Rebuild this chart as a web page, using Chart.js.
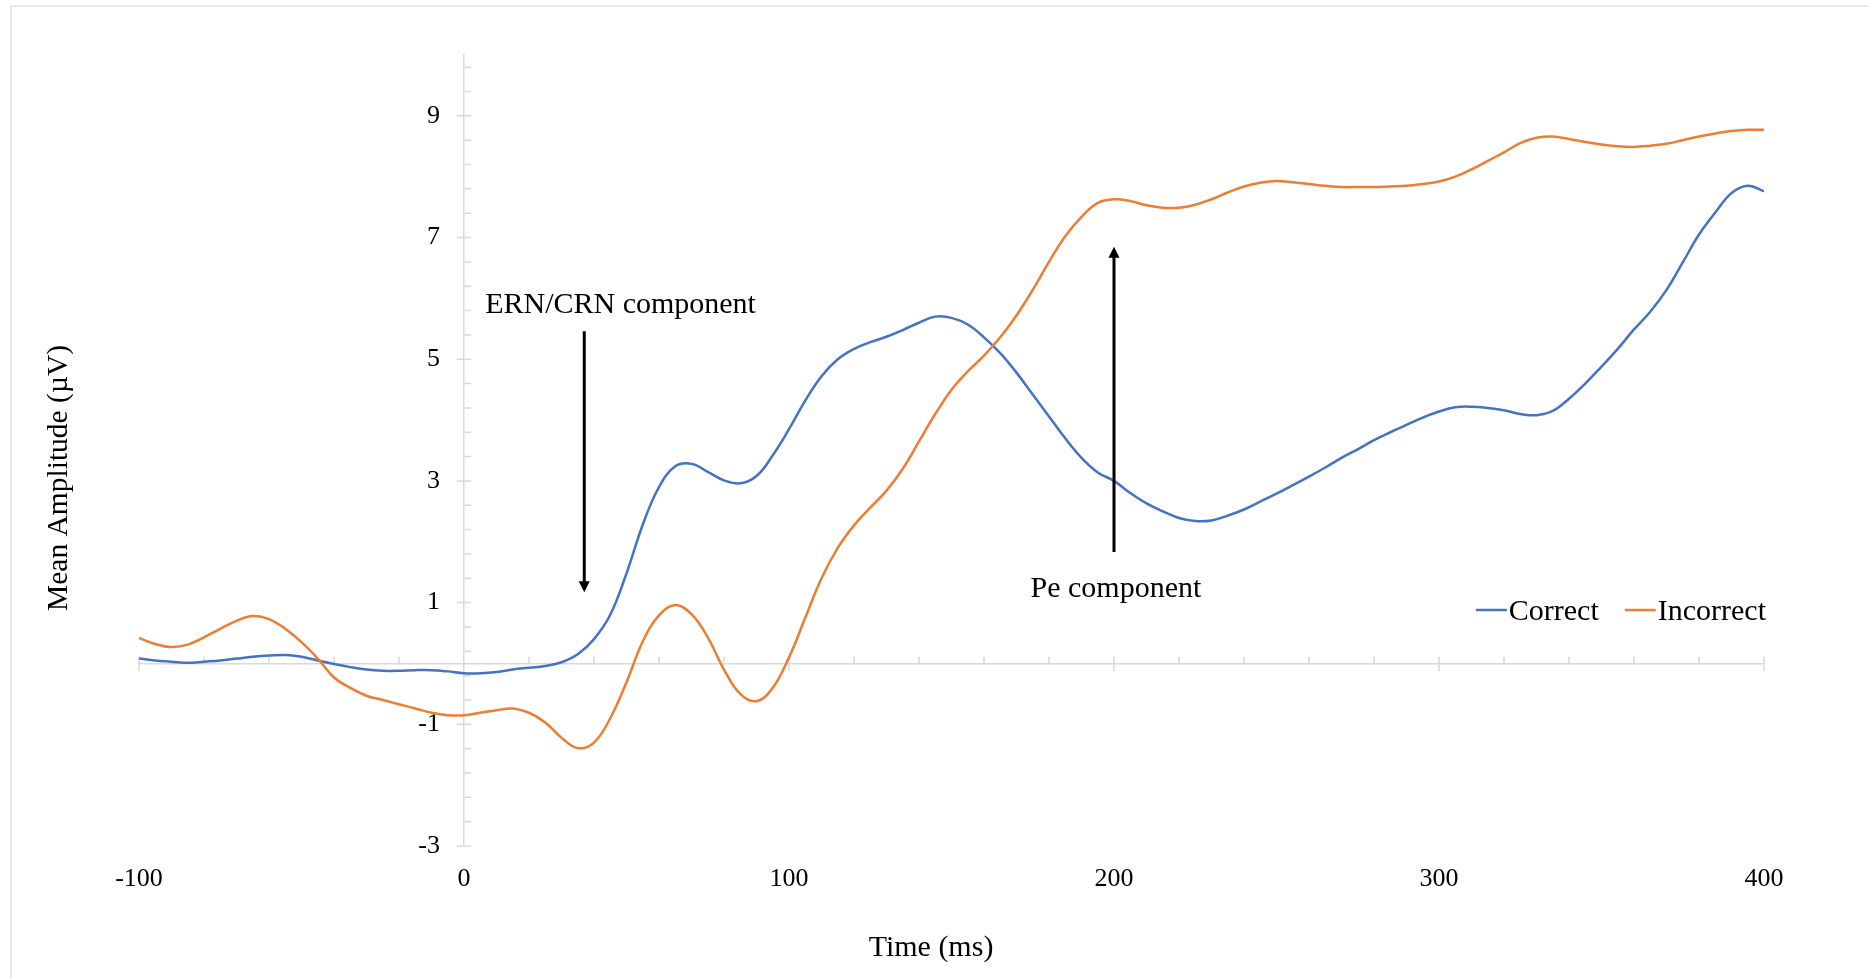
<!DOCTYPE html>
<html>
<head>
<meta charset="utf-8">
<script src="https://cdn.jsdelivr.net/npm/chart.js@4.4.1/dist/chart.umd.min.js"></script>
<style>
  html, body { margin: 0; padding: 0; background: #fff; }
  #wrap { position: relative; width: 1868px; height: 978px; }
  #frame { position: absolute; left: 10px; top: 5px; right: 0; bottom: 0; border-top: 2px solid #e8e8e8; border-left: 2px solid #e8e8e8; pointer-events: none; }
</style>
</head>
<body>
<div id="wrap">
  <div id="frame"></div>
  <canvas id="erpChart"></canvas>
</div>
<script>
// time points (ms)
const times = [
  -100, -95, -90, -85, -80, -75, -70, -65, -60, -55, -50, -45, -40, -35, -30, -25, -20, -15, -10, -5,
  0, 5, 10, 15, 20, 25, 30, 35, 40, 45, 50, 55, 60, 65, 70, 75, 80, 85, 90, 95,
  100, 105, 110, 115, 120, 125, 130, 135, 140, 145, 150, 155, 160, 165, 170, 175, 180, 185, 190, 195,
  200, 205, 210, 215, 220, 225, 230, 235, 240, 245, 250, 255, 260, 265, 270, 275, 280, 285, 290, 295,
  300, 305, 310, 315, 320, 325, 330, 335, 340, 345, 350, 355, 360, 365, 370, 375, 380, 385, 390, 395,
  400
];

// mean amplitude (µV)
const correct = [
  0.08, 0.05, 0.03, 0.01, 0.03, 0.05, 0.08, 0.11, 0.13, 0.14, 0.11, 0.05, -0.01, -0.06, -0.10, -0.12, -0.12, -0.11, -0.11, -0.13,
  -0.16, -0.16, -0.14, -0.10, -0.07, -0.04, 0.02, 0.15, 0.40, 0.80, 1.48, 2.28, 2.90, 3.24, 3.28, 3.15, 3.01, 2.96, 3.08, 3.42,
  3.85, 4.32, 4.72, 5.00, 5.17, 5.28, 5.37, 5.48, 5.60, 5.70, 5.68, 5.57, 5.36, 5.10, 4.78, 4.42, 4.06, 3.70, 3.38, 3.14,
  3.00, 2.80, 2.63, 2.50, 2.39, 2.34, 2.35, 2.43, 2.53, 2.66, 2.79, 2.93, 3.07, 3.22, 3.38, 3.52, 3.67, 3.80, 3.92, 4.04,
  4.14, 4.21, 4.22, 4.20, 4.16, 4.10, 4.08, 4.15, 4.35, 4.60, 4.88, 5.17, 5.49, 5.78, 6.14, 6.59, 7.05, 7.41, 7.73, 7.85,
  7.76
];

const incorrect = [
  0.42, 0.32, 0.27, 0.31, 0.43, 0.57, 0.70, 0.78, 0.73, 0.57, 0.35, 0.08, -0.23, -0.40, -0.53, -0.60, -0.67, -0.74, -0.81, -0.85,
  -0.85, -0.81, -0.77, -0.74, -0.81, -0.97, -1.22, -1.39, -1.30, -0.90, -0.31, 0.36, 0.79, 0.96, 0.81, 0.43, -0.10, -0.50, -0.62, -0.40,
  0.10, 0.75, 1.40, 1.90, 2.27, 2.56, 2.84, 3.20, 3.65, 4.10, 4.50, 4.80, 5.06, 5.36, 5.72, 6.14, 6.60, 7.02, 7.34, 7.57,
  7.63, 7.60, 7.53, 7.49, 7.49, 7.54, 7.63, 7.74, 7.84, 7.90, 7.93, 7.91, 7.88, 7.85, 7.83, 7.83, 7.83, 7.84, 7.85, 7.88,
  7.92, 8.00, 8.12, 8.26, 8.40, 8.55, 8.64, 8.66, 8.62, 8.57, 8.53, 8.50, 8.49, 8.51, 8.54, 8.60, 8.66, 8.71, 8.75, 8.77,
  8.77
];

const seriesNames = ['Correct', 'Incorrect'];
const xTickValues = [-100, 0, 100, 200, 300, 400];
const yTickValues = [-3, -1, 1, 3, 5, 7, 9];

// annotation arrows, in data units
const ernNote = { text: 'ERN/CRN component', x: 37, from: 5.46, to: 1.17, textX: 6.5, textY: 5.76 };
const peNote = { text: 'Pe component', x: 200, from: 1.83, to: 6.85, textX: 200.6, textY: 1.10 };

const serif = "'Liberation Serif', 'Times New Roman', serif";
const axisColor = '#d9d9d9';
const colors = ['#4472C4', '#ED7D31'];

const toPoints = (vals) => times.map((t, i) => ({ x: t, y: vals[i] }));

// y labels of a centred axis get no offset from chart.js, push them off the line
const yLabelGap = {
  id: 'yLabelGap',
  beforeDraw(chart) {
    chart.scales.y.getLabelItems().forEach(item => { item.options.translation[0] -= 24; });
  }
};

// minor / major tick marks drawn on the axis lines (Excel style)
const axisMarks = {
  id: 'axisMarks',
  beforeDatasetsDraw(chart) {
    const { ctx, scales: { x, y } } = chart;
    const x0 = x.getPixelForValue(0);
    const y0 = y.getPixelForValue(0);
    ctx.save();
    ctx.strokeStyle = axisColor;
    ctx.lineWidth = 1.5;
    ctx.beginPath();
    for (let v = -100; v <= 400; v += 20) {
      if (v === 0) continue;
      const px = x.getPixelForValue(v);
      const major = v % 100 === 0;
      ctx.moveTo(px, y0 + (major ? 7.5 : 0));
      ctx.lineTo(px, y0 - 7);
    }
    for (let i = 0; i <= 32; i++) {
      const py = y.getPixelForValue(-3 + i * 0.4);
      const major = i % 5 === 0;
      ctx.moveTo(x0 - (major ? 7.5 : 0), py);
      ctx.lineTo(x0 + 7, py);
    }
    ctx.stroke();
    ctx.restore();
  }
};

function drawArrow(ctx, px, yFrom, yTo) {
  const dir = yTo > yFrom ? 1 : -1;
  ctx.beginPath();
  ctx.moveTo(px, yFrom);
  ctx.lineTo(px, yTo - dir * 10);
  ctx.stroke();
  ctx.beginPath();
  ctx.moveTo(px, yTo);
  ctx.lineTo(px - 5.5, yTo - dir * 11);
  ctx.lineTo(px + 5.5, yTo - dir * 11);
  ctx.closePath();
  ctx.fill();
}

// annotations, legend and axis titles
const extras = {
  id: 'extras',
  afterDatasetsDraw(chart) {
    const { ctx, chartArea, scales: { x, y } } = chart;
    ctx.save();
    ctx.fillStyle = '#000';
    ctx.strokeStyle = '#000';
    ctx.lineWidth = 3;

    drawArrow(ctx, x.getPixelForValue(ernNote.x), y.getPixelForValue(ernNote.from), y.getPixelForValue(ernNote.to));
    drawArrow(ctx, x.getPixelForValue(peNote.x), y.getPixelForValue(peNote.from), y.getPixelForValue(peNote.to));

    ctx.font = '30px ' + serif;
    ctx.textBaseline = 'alphabetic';
    ctx.textAlign = 'left';
    ctx.fillText(ernNote.text, x.getPixelForValue(ernNote.textX), y.getPixelForValue(ernNote.textY));
    ctx.textAlign = 'center';
    ctx.fillText(peNote.text, x.getPixelForValue(peNote.textX), y.getPixelForValue(peNote.textY));

    // x axis title, sits a little left of the plot centre
    ctx.textBaseline = 'middle';
    ctx.fillText('Time (ms)', 931, 948);

    // legend, inside the plot at the right
    const ds = chart.data.datasets;
    const lineLen = 31, gap = 2, itemGap = 26;
    ctx.textAlign = 'left';
    ctx.textBaseline = 'alphabetic';
    const widths = ds.map(d => ctx.measureText(d.label).width);
    const total = widths.reduce((a, w) => a + lineLen + gap + w, 0) + itemGap * (ds.length - 1);
    let lx = chartArea.right + 2 - total;
    const ly = 610;
    ds.forEach((d, i) => {
      ctx.strokeStyle = d.borderColor;
      ctx.lineWidth = 2.5;
      ctx.beginPath();
      ctx.moveTo(lx, ly);
      ctx.lineTo(lx + lineLen, ly);
      ctx.stroke();
      ctx.fillText(d.label, lx + lineLen + gap, ly + 10);
      lx += lineLen + gap + widths[i] + itemGap;
    });

    // y axis title
    ctx.font = '29.5px ' + serif;
    ctx.translate(59, 478);
    ctx.rotate(-Math.PI / 2);
    ctx.textAlign = 'center';
    ctx.textBaseline = 'middle';
    ctx.fillText('Mean Amplitude (µV)', 0, 0);
    ctx.restore();
  }
};

const ctx = document.getElementById('erpChart').getContext('2d');
const erpChart = new Chart(ctx, {
  type: 'line',
  data: {
    datasets: [{
      label: seriesNames[0],
      data: toPoints(correct),
      borderColor: colors[0],
      backgroundColor: colors[0],
      borderWidth: 2.5,
      pointRadius: 0,
      tension: 0.4,
      fill: false,
      order: 1
    }, {
      label: seriesNames[1],
      data: toPoints(incorrect),
      borderColor: colors[1],
      backgroundColor: colors[1],
      borderWidth: 2.5,
      pointRadius: 0,
      tension: 0.4,
      fill: false,
      order: 0
    }]
  },
  options: {
    responsive: true,
    maintainAspectRatio: false,
    animation: false,
    layout: { padding: { left: 139, right: 104, top: 55, bottom: 0 } },
    plugins: {
      legend: { display: false },
      tooltip: { enabled: false }
    },
    scales: {
      x: {
        type: 'linear',
        position: 'bottom',
        min: -100,
        max: 400,
        afterBuildTicks: (s) => { s.ticks = xTickValues.map(v => ({ value: v })); },
        afterFit: (s) => { s.height = 132; },
        grid: { display: false, drawTicks: false },
        border: { display: false },
        ticks: { color: '#000', font: { family: serif, size: 26 }, padding: 18, maxRotation: 0, autoSkip: false }
      },
      xZero: {
        type: 'linear',
        axis: 'x',
        position: { y: 0 },
        min: -100,
        max: 400,
        grid: { display: false, drawTicks: false },
        border: { display: true, color: axisColor, width: 1.5 },
        ticks: { display: false }
      },
      y: {
        type: 'linear',
        position: { x: 0 },
        min: -3,
        max: 10,
        afterBuildTicks: (s) => { s.ticks = yTickValues.map(v => ({ value: v })); },
        grid: { display: false, drawTicks: false },
        border: { display: true, color: axisColor, width: 1.5 },
        ticks: { color: '#000', font: { family: serif, size: 26 }, padding: 0 }
      }
    }
  },
  plugins: [yLabelGap, axisMarks, extras]
});
</script>
</body>
</html>
